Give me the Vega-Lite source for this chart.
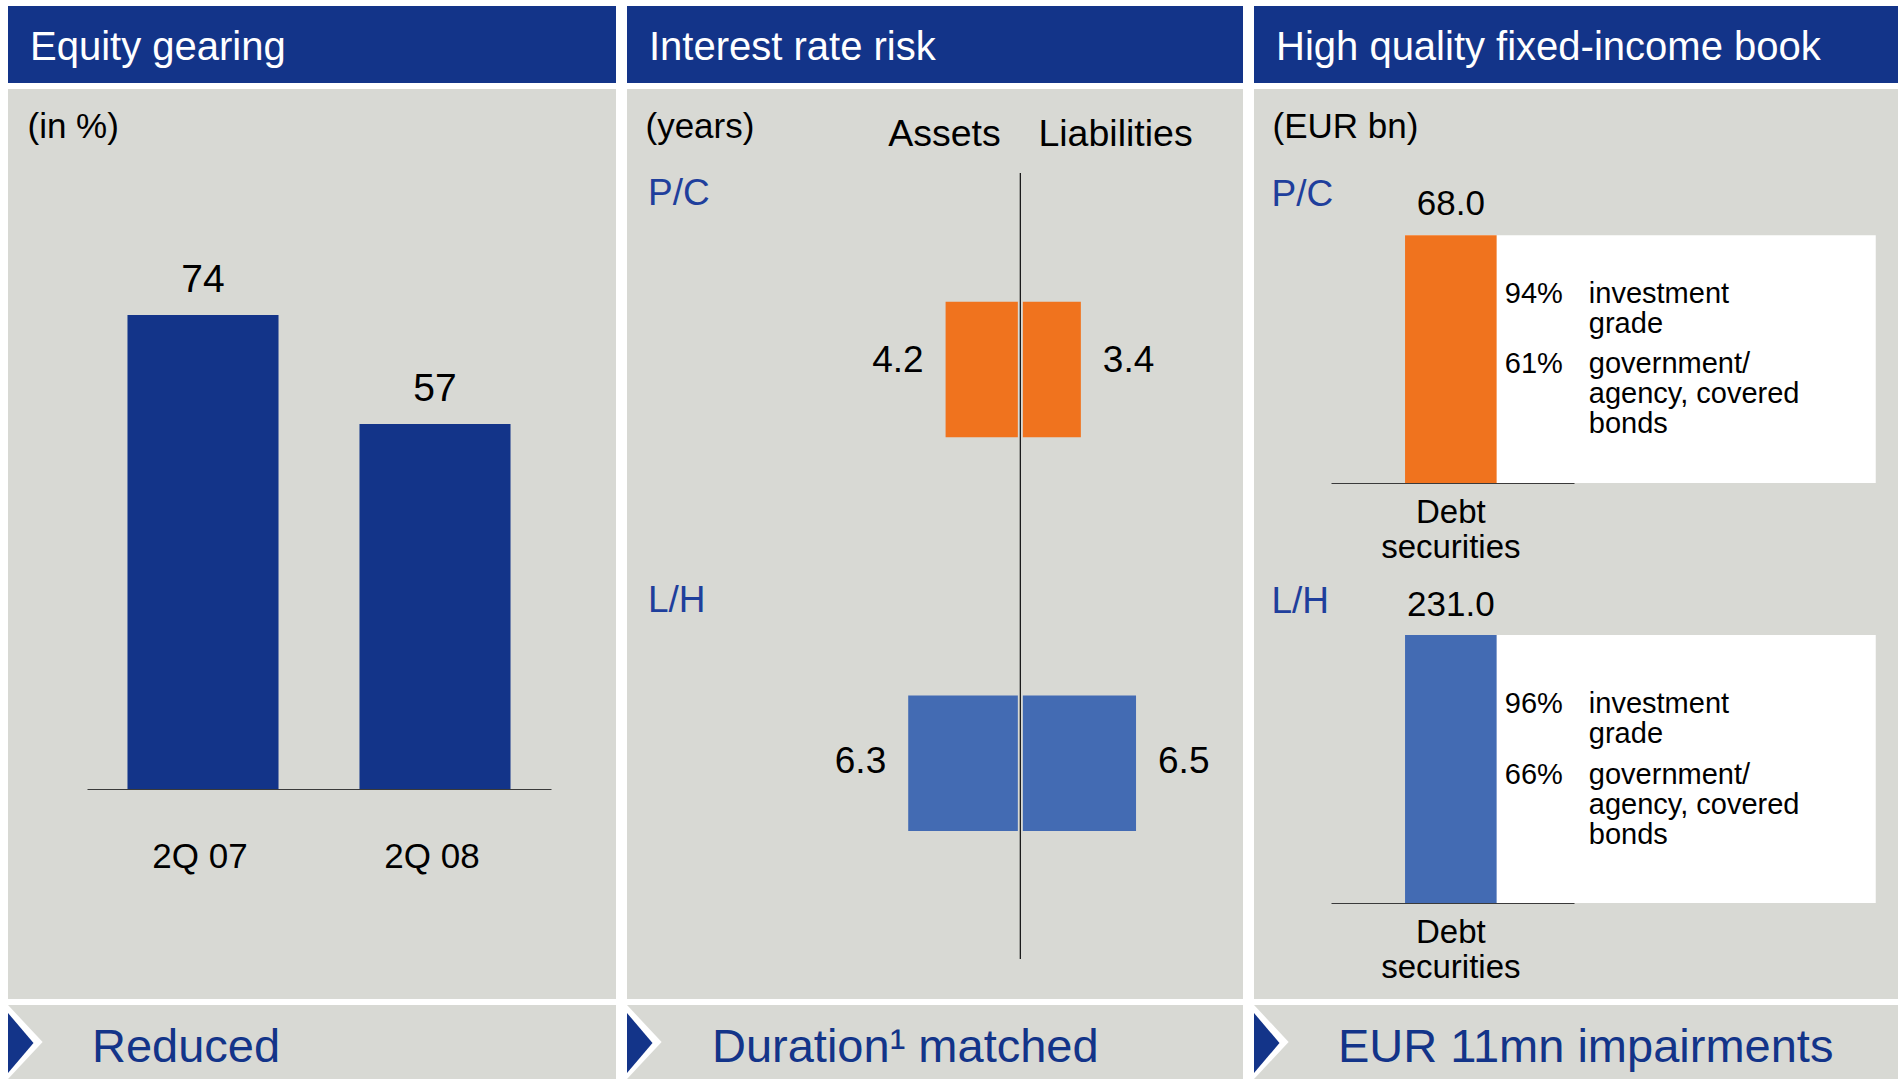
{
  "$schema": "https://vega.github.io/schema/vega-lite/v6.json",
  "background": "white",
  "padding": {"left": 7, "top": 6, "right": 0, "bottom": 0},
  "config": {"font": "Liberation Sans", "view": {"stroke": null}},
  "datasets": {
    "panels": [
      {"panel": "Equity gearing", "takeaway": "Reduced"},
      {"panel": "Interest rate risk", "takeaway": "Duration¹ matched"},
      {"panel": "High quality fixed-income book", "takeaway": "EUR 11mn impairments"}
    ],
    "gearing": [
      {"quarter": "2Q 07", "gearing": 74},
      {"quarter": "2Q 08", "gearing": 57}
    ],
    "duration": [
      {"segment": "P/C", "side": "Assets", "duration": 4.2},
      {"segment": "P/C", "side": "Liabilities", "duration": 3.4},
      {"segment": "L/H", "side": "Assets", "duration": 6.3},
      {"segment": "L/H", "side": "Liabilities", "duration": 6.5}
    ],
    "book": [
      {"segment": "P/C", "category": "Debt securities", "amount": 68.0},
      {"segment": "L/H", "category": "Debt securities", "amount": 231.0}
    ],
    "composition": [
      {"segment": "P/C", "category": "Debt securities", "item": 1, "share": 0.94, "desc": "investment\ngrade"},
      {"segment": "P/C", "category": "Debt securities", "item": 2, "share": 0.61, "desc": "government/\nagency, covered\nbonds"},
      {"segment": "L/H", "category": "Debt securities", "item": 1, "share": 0.96, "desc": "investment\ngrade"},
      {"segment": "L/H", "category": "Debt securities", "item": 2, "share": 0.66, "desc": "government/\nagency, covered\nbonds"}
    ]
  },
  "spacing": 10,
  "hconcat": [
    {
      "spacing": 6,
      "vconcat": [
        {
          "width": 608, "height": 77,
          "view": {"fill": "#133489", "stroke": null},
          "data": {"name": "panels"},
          "transform": [{"filter": {"field": "panel", "equal": "Equity gearing"}}],
          "mark": {"type": "text", "align": "left", "baseline": "middle", "color": "white", "fontSize": 40, "xOffset": 22, "yOffset": 3},
          "encoding": {
            "text": {"field": "panel"},
            "x": {"field": "panel", "type": "nominal", "scale": {"type": "point", "range": [0, 0], "padding": 0}, "axis": null}
          }
        },
        {
          "width": 608, "height": 910,
          "view": {"fill": "#d8d9d4", "stroke": null},
          "data": {"name": "gearing"},
          "encoding": {
            "x": {"field": "quarter", "type": "nominal", "sort": null,
              "scale": {"type": "band", "range": [79, 543], "paddingInner": 0.349, "paddingOuter": 0.1745},
              "axis": {"orient": "bottom", "offset": -210, "title": null, "ticks": false, "tickSize": 0, "labelAngle": 0, "labelFontSize": 35, "labelColor": "black", "labelPadding": 50, "labelOffset": -3, "domainColor": "#3a3a3a", "domainWidth": 1.2, "zindex": 1, "minExtent": 0}},
            "y": {"field": "gearing", "type": "quantitative",
              "scale": {"domain": [0, 100], "range": [700, 59.5], "nice": false},
              "axis": {"title": "(in %)", "labels": false, "ticks": false, "domain": false, "grid": false, "titleAngle": 0, "titleAlign": "left", "titleBaseline": "middle", "titleX": 19, "titleY": 37, "titleFontSize": 35, "titleFontWeight": "normal", "titleColor": "black", "minExtent": 0}}
          },
          "layer": [
            {"mark": {"type": "bar", "color": "#133489"}},
            {"mark": {"type": "text", "baseline": "middle", "fontSize": 39, "dy": -35, "color": "black"},
             "encoding": {"text": {"field": "gearing", "type": "quantitative"}}}
          ]
        },
        {
          "width": 608, "height": 74,
          "view": {"fill": "#d8d9d4", "stroke": null},
          "data": {"name": "panels"},
          "transform": [{"filter": {"field": "panel", "equal": "Equity gearing"}}],
          "encoding": {"x": {"field": "takeaway", "type": "nominal", "scale": {"type": "point", "range": [0, 0], "padding": 0}, "axis": null}},
          "layer": [
            {"mark": {"type": "point", "shape": "M -0.4676 -1 L 0.4676 0 L -0.4676 1 Z", "size": 5476, "filled": true, "color": "white", "opacity": 1, "strokeWidth": 0, "xOffset": 17.3}},
            {"mark": {"type": "point", "shape": "M -0.425 -1 L 0.425 0 L -0.425 1 Z", "size": 3600, "filled": true, "color": "#133489", "opacity": 1, "strokeWidth": 0, "xOffset": 12.75, "yOffset": 1}},
            {"mark": {"type": "text", "align": "left", "baseline": "middle", "color": "#133489", "fontSize": 47, "xOffset": 84, "yOffset": 6},
             "encoding": {"text": {"field": "takeaway"}}}
          ]
        }
      ]
    },
    {
      "spacing": 6,
      "vconcat": [
        {
          "width": 616, "height": 77,
          "view": {"fill": "#133489", "stroke": null},
          "data": {"name": "panels"},
          "transform": [{"filter": {"field": "panel", "equal": "Interest rate risk"}}],
          "mark": {"type": "text", "align": "left", "baseline": "middle", "color": "white", "fontSize": 40, "xOffset": 22, "yOffset": 3},
          "encoding": {
            "text": {"field": "panel"},
            "x": {"field": "panel", "type": "nominal", "scale": {"type": "point", "range": [0, 0], "padding": 0}, "axis": null}
          }
        },
        {
          "width": 616, "height": 910,
          "view": {"fill": "#d8d9d4", "stroke": null},
          "data": {"name": "duration"},
          "encoding": {
            "y": {"field": "segment", "type": "nominal", "sort": null,
              "scale": {"domain": ["P/C", "L/H"], "range": [212.7, 742], "paddingInner": 0.6555, "paddingOuter": 0},
              "axis": null},
            "color": {"field": "segment", "type": "nominal", "scale": {"domain": ["P/C", "L/H"], "range": ["#f0731e", "#436bb3"]}, "legend": null}
          },
          "layer": [
            {
              "transform": [{"filter": {"field": "side", "equal": "Assets"}}],
              "encoding": {"x": {"field": "duration", "type": "quantitative", "scale": {"domain": [-12.51, 22.1], "reverse": true, "nice": false, "zero": false}, "axis": null}},
              "layer": [
                {"mark": {"type": "bar"}, "encoding": {"x2": {"datum": 0}}},
                {"transform": [{"filter": {"field": "segment", "equal": "P/C"}}],
                 "mark": {"type": "text", "align": "right", "baseline": "middle", "dx": -22, "dy": -8.5, "fontSize": 37},
                 "encoding": {"text": {"field": "duration", "type": "quantitative", "format": ".1f"}, "color": {"value": "black"}}},
                {"transform": [{"filter": {"field": "segment", "equal": "L/H"}}],
                 "mark": {"type": "text", "align": "right", "baseline": "middle", "dx": -22, "dy": -1, "fontSize": 37},
                 "encoding": {"text": {"field": "duration", "type": "quantitative", "format": ".1f"}, "color": {"value": "black"}}}
              ]
            },
            {
              "transform": [{"filter": {"field": "side", "equal": "Liabilities"}}],
              "encoding": {"x": {"field": "duration", "type": "quantitative", "scale": {"domain": [-22.1, 12.51], "nice": false, "zero": false},
                "axis": {"orient": "top", "offset": -60, "values": [-4.29, 5.32], "labelExpr": "datum.value < 0 ? 'Assets' : 'Liabilities'", "title": null, "domain": false, "ticks": false, "tickSize": 0, "grid": false, "labelPadding": 15, "labelBaseline": "middle", "labelFontSize": 37.5, "labelColor": "black", "labelFlush": false, "labelOverlap": false, "labelBound": false, "minExtent": 0}}},
              "layer": [
                {"mark": {"type": "bar"}, "encoding": {"x2": {"datum": 0}}},
                {"transform": [{"filter": {"field": "segment", "equal": "P/C"}}],
                 "mark": {"type": "text", "align": "left", "baseline": "middle", "dx": 22, "dy": -8.5, "fontSize": 37},
                 "encoding": {"text": {"field": "duration", "type": "quantitative", "format": ".1f"}, "color": {"value": "black"}}},
                {"transform": [{"filter": {"field": "segment", "equal": "L/H"}}],
                 "mark": {"type": "text", "align": "left", "baseline": "middle", "dx": 22, "dy": -1, "fontSize": 37},
                 "encoding": {"text": {"field": "duration", "type": "quantitative", "format": ".1f"}, "color": {"value": "black"}}}
              ]
            },
            {
              "transform": [{"filter": {"field": "side", "equal": "Assets"}}],
              "mark": {"type": "text", "align": "left", "baseline": "middle", "dx": 21, "fontSize": 37},
              "encoding": {
                "text": {"field": "segment"},
                "x": {"datum": -22.1, "type": "quantitative", "scale": {"domain": [-22.1, 12.51], "nice": false, "zero": false}, "axis": null},
                "y": {"field": "segment", "type": "nominal", "sort": null,
                  "scale": {"type": "point", "domain": ["P/C", "L/H"], "range": [105, 512], "padding": 0},
                  "axis": {"orient": "left", "title": "(years)", "labels": false, "domain": false, "ticks": false, "grid": false, "titleAngle": 0, "titleAlign": "left", "titleBaseline": "middle", "titleX": 18, "titleY": 37, "titleFontSize": 35, "titleFontWeight": "normal", "titleColor": "black", "minExtent": 0}},
                "color": {"value": "#1f3f9c"}
              }
            },
            {
              "data": {"values": [{}]},
              "mark": {"type": "rule", "strokeWidth": 5, "yOffset": -196.4, "y2Offset": 195.7},
              "encoding": {
                "x": {"datum": 0, "type": "quantitative", "scale": {"domain": [-22.1, 12.51], "nice": false, "zero": false}, "axis": null},
                "y": {"datum": "P/C", "type": "nominal", "scale": {"type": "band", "domain": ["P/C", "L/H"], "range": [212.7, 742], "paddingInner": 0.6555, "paddingOuter": 0}, "axis": null},
                "y2": {"datum": "L/H"},
                "color": {"value": "#d8d9d4"}
              }
            },
            {
              "data": {"values": [{}]},
              "mark": {"type": "rule", "strokeWidth": 1.3, "yOffset": -196.4, "y2Offset": 195.7},
              "encoding": {
                "x": {"datum": 0, "type": "quantitative", "scale": {"domain": [-22.1, 12.51], "nice": false, "zero": false}, "axis": null},
                "y": {"datum": "P/C", "type": "nominal", "scale": {"type": "band", "domain": ["P/C", "L/H"], "range": [212.7, 742], "paddingInner": 0.6555, "paddingOuter": 0}, "axis": null},
                "y2": {"datum": "L/H"},
                "color": {"value": "#1a1a1a"}
              }
            }
          ],
          "resolve": {"scale": {"x": "independent", "y": "independent"}}
        },
        {
          "width": 616, "height": 74,
          "view": {"fill": "#d8d9d4", "stroke": null},
          "data": {"name": "panels"},
          "transform": [{"filter": {"field": "panel", "equal": "Interest rate risk"}}],
          "encoding": {"x": {"field": "takeaway", "type": "nominal", "scale": {"type": "point", "range": [0, 0], "padding": 0}, "axis": null}},
          "layer": [
            {"mark": {"type": "point", "shape": "M -0.4676 -1 L 0.4676 0 L -0.4676 1 Z", "size": 5476, "filled": true, "color": "white", "opacity": 1, "strokeWidth": 0, "xOffset": 17.3}},
            {"mark": {"type": "point", "shape": "M -0.425 -1 L 0.425 0 L -0.425 1 Z", "size": 3600, "filled": true, "color": "#133489", "opacity": 1, "strokeWidth": 0, "xOffset": 12.75, "yOffset": 1}},
            {"mark": {"type": "text", "align": "left", "baseline": "middle", "color": "#133489", "fontSize": 47, "xOffset": 85, "yOffset": 6},
             "encoding": {"text": {"field": "takeaway"}}}
          ]
        }
      ]
    },
    {
      "spacing": 6,
      "vconcat": [
        {
          "width": 645, "height": 77,
          "view": {"fill": "#133489", "stroke": null},
          "data": {"name": "panels"},
          "transform": [{"filter": {"field": "panel", "equal": "High quality fixed-income book"}}],
          "mark": {"type": "text", "align": "left", "baseline": "middle", "color": "white", "fontSize": 40, "xOffset": 22, "yOffset": 3},
          "encoding": {
            "text": {"field": "panel"},
            "x": {"field": "panel", "type": "nominal", "scale": {"type": "point", "range": [0, 0], "padding": 0}, "axis": null}
          }
        },
        {
          "spacing": 0,
          "vconcat": [
            {
              "width": 645, "height": 490,
              "view": {"fill": "#d8d9d4", "stroke": null},
              "layer": [
                {
                  "data": {"name": "book"},
                  "transform": [{"filter": {"field": "segment", "equal": "P/C"}}],
                  "encoding": {
                    "x": {"field": "category", "type": "nominal",
                      "scale": {"type": "band", "range": [77, 320], "paddingInner": 0, "paddingOuter": 0.8264, "align": 0.489},
                      "axis": {"orient": "bottom", "offset": -96, "title": "(EUR bn)", "labelExpr": "split(datum.label, ' ')", "labelLineHeight": 34.5, "labelFontSize": 33, "labelColor": "black", "labelPadding": 13.5, "labelAngle": 0, "ticks": false, "tickSize": 0, "domainColor": "#3a3a3a", "domainWidth": 1.2, "zindex": 1, "titleX": 18, "titleY": -357, "titleAlign": "left", "titleBaseline": "middle", "titleAngle": 0, "titleFontSize": 35, "titleFontWeight": "normal", "titleColor": "black", "minExtent": 0}},
                    "y": {"field": "amount", "type": "quantitative",
                      "scale": {"zero": true, "nice": false, "range": [394, 146.3]},
                      "axis": {"title": "P/C", "labels": false, "ticks": false, "domain": false, "grid": false, "titleAngle": 0, "titleAlign": "left", "titleBaseline": "middle", "titleX": 17, "titleY": 105, "titleFontSize": 37, "titleFontWeight": "normal", "titleColor": "#1f3f9c", "minExtent": 0}},
                    "color": {"field": "segment", "type": "nominal", "scale": {"domain": ["P/C", "L/H"], "range": ["#f0731e", "#436bb3"]}, "legend": null}
                  },
                  "layer": [
                    {"mark": {"type": "bar", "width": 470.7, "xOffset": 189.55}, "encoding": {"color": {"value": "white"}}},
                    {"mark": {"type": "bar"}},
                    {"mark": {"type": "text", "baseline": "middle", "fontSize": 35, "dy": -31},
                     "encoding": {"text": {"field": "amount", "type": "quantitative", "format": ".1f"}, "color": {"value": "black"}}}
                  ]
                },
                {
                  "data": {"name": "composition"},
                  "transform": [{"filter": {"field": "segment", "equal": "P/C"}}],
                  "encoding": {
                    "x": {"field": "category", "type": "nominal"},
                    "y": {"field": "item", "type": "ordinal", "scale": {"type": "point", "range": [214.4, 284.4], "padding": 0}, "axis": null}
                  },
                  "layer": [
                    {"mark": {"type": "text", "align": "left", "baseline": "alphabetic", "fontSize": 29, "dx": 54, "color": "black"},
                     "encoding": {"text": {"field": "share", "type": "quantitative", "format": ".0%"}}},
                    {"mark": {"type": "text", "align": "left", "baseline": "alphabetic", "fontSize": 29, "dx": 138, "lineBreak": "\n", "lineHeight": 30, "color": "black"},
                     "encoding": {"text": {"field": "desc"}}}
                  ]
                }
              ],
              "resolve": {"scale": {"y": "independent"}}
            },
            {
              "width": 645, "height": 420,
              "view": {"fill": "#d8d9d4", "stroke": null},
              "layer": [
                {
                  "data": {"name": "book"},
                  "transform": [{"filter": {"field": "segment", "equal": "L/H"}}],
                  "encoding": {
                    "x": {"field": "category", "type": "nominal",
                      "scale": {"type": "band", "range": [77, 320], "paddingInner": 0, "paddingOuter": 0.8264, "align": 0.489},
                      "axis": {"orient": "bottom", "offset": -96, "title": null, "labelExpr": "split(datum.label, ' ')", "labelLineHeight": 34.5, "labelFontSize": 33, "labelColor": "black", "labelPadding": 13.5, "labelAngle": 0, "ticks": false, "tickSize": 0, "domainColor": "#3a3a3a", "domainWidth": 1.2, "zindex": 1, "minExtent": 0}},
                    "y": {"field": "amount", "type": "quantitative",
                      "scale": {"zero": true, "nice": false, "range": [324, 56]},
                      "axis": {"title": "L/H", "labels": false, "ticks": false, "domain": false, "grid": false, "titleAngle": 0, "titleAlign": "left", "titleBaseline": "middle", "titleX": 17, "titleY": 22, "titleFontSize": 37, "titleFontWeight": "normal", "titleColor": "#1f3f9c", "minExtent": 0}},
                    "color": {"field": "segment", "type": "nominal", "scale": {"domain": ["P/C", "L/H"], "range": ["#f0731e", "#436bb3"]}, "legend": null}
                  },
                  "layer": [
                    {"mark": {"type": "bar", "width": 470.7, "xOffset": 189.55}, "encoding": {"color": {"value": "white"}}},
                    {"mark": {"type": "bar"}},
                    {"mark": {"type": "text", "baseline": "middle", "fontSize": 35, "dy": -30},
                     "encoding": {"text": {"field": "amount", "type": "quantitative", "format": ".1f"}, "color": {"value": "black"}}}
                  ]
                },
                {
                  "data": {"name": "composition"},
                  "transform": [{"filter": {"field": "segment", "equal": "L/H"}}],
                  "encoding": {
                    "x": {"field": "category", "type": "nominal"},
                    "y": {"field": "item", "type": "ordinal", "scale": {"type": "point", "range": [134.4, 205.4], "padding": 0}, "axis": null}
                  },
                  "layer": [
                    {"mark": {"type": "text", "align": "left", "baseline": "alphabetic", "fontSize": 29, "dx": 54, "color": "black"},
                     "encoding": {"text": {"field": "share", "type": "quantitative", "format": ".0%"}}},
                    {"mark": {"type": "text", "align": "left", "baseline": "alphabetic", "fontSize": 29, "dx": 138, "lineBreak": "\n", "lineHeight": 30, "color": "black"},
                     "encoding": {"text": {"field": "desc"}}}
                  ]
                }
              ],
              "resolve": {"scale": {"y": "independent"}}
            }
          ]
        },
        {
          "width": 645, "height": 74,
          "view": {"fill": "#d8d9d4", "stroke": null},
          "data": {"name": "panels"},
          "transform": [{"filter": {"field": "panel", "equal": "High quality fixed-income book"}}],
          "encoding": {"x": {"field": "takeaway", "type": "nominal", "scale": {"type": "point", "range": [0, 0], "padding": 0}, "axis": null}},
          "layer": [
            {"mark": {"type": "point", "shape": "M -0.4676 -1 L 0.4676 0 L -0.4676 1 Z", "size": 5476, "filled": true, "color": "white", "opacity": 1, "strokeWidth": 0, "xOffset": 17.3}},
            {"mark": {"type": "point", "shape": "M -0.425 -1 L 0.425 0 L -0.425 1 Z", "size": 3600, "filled": true, "color": "#133489", "opacity": 1, "strokeWidth": 0, "xOffset": 12.75, "yOffset": 1}},
            {"mark": {"type": "text", "align": "left", "baseline": "middle", "color": "#133489", "fontSize": 47, "xOffset": 84, "yOffset": 6},
             "encoding": {"text": {"field": "takeaway"}}}
          ]
        }
      ]
    }
  ]
}
